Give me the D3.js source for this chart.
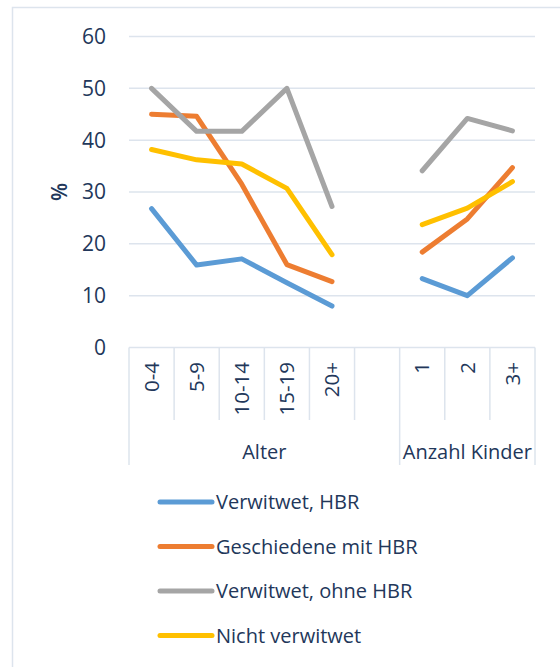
<!DOCTYPE html>
<html>
<head>
<meta charset="utf-8">
<script src="https://cdn.jsdelivr.net/npm/d3@7"></script>
<style>
  html, body { margin: 0; padding: 0; background: #ffffff; }
  svg { display: block; }
  text { font-family: "Open Sans", "Noto Sans", sans-serif; fill: #22375a; }
</style>
</head>
<body>
<svg id="chart" width="560" height="667"></svg>
<script>
// Category slots along the x axis; the empty slot separates the two groups
const categories = ["0-4", "5-9", "10-14", "15-19", "20+", "", "1", "2", "3+"];
const groups = [
  { name: "Alter", from: 0, to: 6 },
  { name: "Anzahl Kinder", from: 6, to: 9 }
];
const yTicks = [0, 10, 20, 30, 40, 50, 60];

// Series values (%), null for the empty slot
const verwitwetHBR     = [26.8, 15.9, 17.1, 12.5, 8.0, null, 13.3, 10.0, 17.3];
const geschiedeneHBR   = [45.0, 44.6, 31.5, 16.0, 12.7, null, 18.4, 24.8, 34.7];
const verwitwetOhneHBR = [50.0, 41.7, 41.7, 50.0, 27.2, null, 34.1, 44.2, 41.8];
const nichtVerwitwet   = [38.2, 36.2, 35.4, 30.7, 17.9, null, 23.7, 26.9, 32.0];

const seriesNames  = ["Verwitwet, HBR", "Geschiedene mit HBR", "Verwitwet, ohne HBR", "Nicht verwitwet"];
const seriesValues = [verwitwetHBR, geschiedeneHBR, verwitwetOhneHBR, nichtVerwitwet];
const seriesColors = ["#5b9bd5", "#ed7d31", "#a5a5a5", "#ffc000"];

const svg = d3.select("#chart");
const gridColor = "#dde4ed";

// outer frame
svg.append("rect")
  .attr("x", 12.5).attr("y", 7.5)
  .attr("width", 600).attr("height", 700)
  .attr("fill", "none").attr("stroke", gridColor).attr("stroke-width", 1.5);

const plot = { left: 129, right: 535, top: 36.5, bottom: 347.5 };

const x = d3.scaleBand().domain(d3.range(categories.length))
  .range([plot.left, plot.right]).paddingInner(0).paddingOuter(0);
const y = d3.scaleLinear().domain([0, 60]).range([plot.bottom, plot.top]);

// horizontal gridlines
svg.append("g").selectAll("line").data(yTicks).join("line")
  .attr("x1", plot.left).attr("x2", plot.right)
  .attr("y1", d => y(d)).attr("y2", d => y(d))
  .attr("stroke", gridColor).attr("stroke-width", 1.5);

// y tick labels
svg.append("g").selectAll("text").data(yTicks).join("text")
  .attr("x", 106).attr("y", d => y(d))
  .attr("dy", "0.35em")
  .attr("text-anchor", "end")
  .attr("font-size", 21)
  .text(d => d);

// y axis title
svg.append("text")
  .attr("transform", `translate(60,${y(30)}) rotate(-90)`)
  .attr("text-anchor", "middle")
  .attr("dy", "0.35em")
  .attr("font-size", 21)
  .attr("font-weight", 600)
  .text("%");

// category separators: short ticks between slots, long ones at group bounds
const groupEdges = new Set([0, 6, 9]);
const edges = d3.range(categories.length + 1);
svg.append("g").selectAll("line").data(edges).join("line")
  .attr("x1", i => i < categories.length ? x(i) : plot.right)
  .attr("x2", i => i < categories.length ? x(i) : plot.right)
  .attr("y1", plot.bottom)
  .attr("y2", i => groupEdges.has(i) ? 465 : 420)
  .attr("stroke", gridColor).attr("stroke-width", 1.5);

// rotated category labels
svg.append("g").selectAll("text").data(categories).join("text")
  .attr("transform", (d, i) => `translate(${x(i) + x.bandwidth() / 2},362) rotate(-90)`)
  .attr("text-anchor", "end")
  .attr("dy", "0.35em")
  .attr("font-size", 20.5)
  .text(d => d);

// group labels
svg.append("g").selectAll("text").data(groups).join("text")
  .attr("x", g => (x(g.from) + (g.to < categories.length ? x(g.to) : plot.right)) / 2)
  .attr("y", 459)
  .attr("text-anchor", "middle")
  .attr("font-size", 20)
  .text(g => g.name);

// series lines
const line = d3.line()
  .defined(d => d != null)
  .x((d, i) => x(i) + x.bandwidth() / 2)
  .y(d => y(d));

svg.append("g").selectAll("path").data(seriesValues).join("path")
  .attr("d", line)
  .attr("fill", "none")
  .attr("stroke", (d, i) => seriesColors[i])
  .attr("stroke-width", 5)
  .attr("stroke-linejoin", "round")
  .attr("stroke-linecap", "round");

// legend
const legend = svg.append("g").selectAll("g").data(seriesNames).join("g")
  .attr("transform", (d, i) => `translate(0,${502 + i * 44.5})`);
legend.append("line")
  .attr("x1", 160).attr("x2", 212)
  .attr("stroke", (d, i) => seriesColors[i])
  .attr("stroke-width", 5)
  .attr("stroke-linecap", "round");
legend.append("text")
  .attr("x", 216).attr("dy", "0.35em")
  .attr("font-size", 20)
  .text(d => d);
</script>
</body>
</html>
